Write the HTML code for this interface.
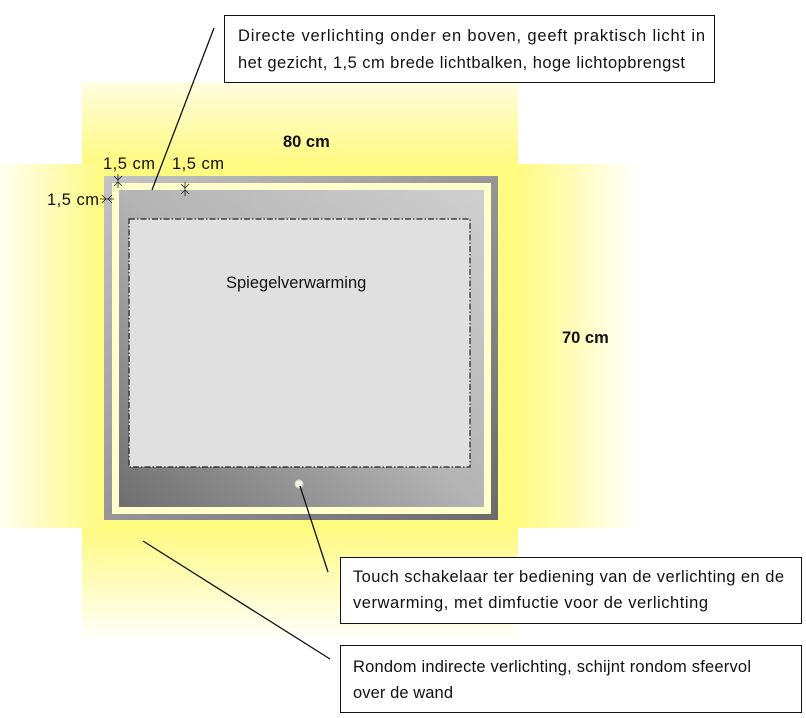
<!DOCTYPE html>
<html><head><meta charset="utf-8"><style>html,body{margin:0;padding:0;background:#fff}svg{display:block}text{font-family:"Liberation Sans",sans-serif;font-size:16.5px;fill:#111}</style></head>
<body>
<svg width="806" height="718" viewBox="0 0 806 718" xmlns="http://www.w3.org/2000/svg">
<defs>
<linearGradient id="gt" x1="0" y1="1" x2="0" y2="0"><stop offset="0" stop-color="#fffa80"/><stop offset="1" stop-color="#fffde0"/></linearGradient>
<linearGradient id="gb" x1="0" y1="0" x2="0" y2="1"><stop offset="0" stop-color="#fffa80"/><stop offset="1" stop-color="#ffffff"/></linearGradient>
<linearGradient id="gl" x1="1" y1="0" x2="0" y2="0"><stop offset="0" stop-color="#fffa80"/><stop offset="1" stop-color="#fffef0"/></linearGradient>
<linearGradient id="gr" x1="0" y1="0" x2="1" y2="0"><stop offset="0" stop-color="#fffa80"/><stop offset="1" stop-color="#ffffff"/></linearGradient>
<linearGradient id="frame2" x1="0" y1="0" x2="1" y2="1"><stop offset="0" stop-color="#c4c4c4"/><stop offset="0.45" stop-color="#9a9a9a"/><stop offset="1" stop-color="#6a6a6a"/></linearGradient>
<linearGradient id="panel" x1="0" y1="1" x2="1" y2="0"><stop offset="0" stop-color="#6e6e6e"/><stop offset="0.5" stop-color="#b4b4b4"/><stop offset="1" stop-color="#cfcfcf"/></linearGradient>
</defs>
<rect x="82" y="82" width="436" height="82" fill="url(#gt)"/>
<rect x="518" y="164" width="122" height="364" fill="url(#gr)"/>
<rect x="0" y="164" width="104" height="364" fill="url(#gl)"/>
<rect x="104" y="164" width="414" height="364" fill="#fffa80"/>
<rect x="82" y="528" width="436" height="115" fill="url(#gb)"/>
<rect x="104" y="176" width="394" height="344" fill="url(#frame2)"/>
<rect x="112" y="183" width="379" height="331" fill="#ffffcc"/>
<rect x="119" y="190" width="365" height="317" fill="url(#panel)"/>
<rect x="129" y="219" width="341" height="248" fill="#e0e0e0" stroke="#222" stroke-width="1.2" stroke-dasharray="6,2,1.5,2"/>
<circle cx="299" cy="484" r="4" fill="#f4f4dc" stroke="#ccc" stroke-width="1"/>
<text x="226" y="288">Spiegelverwarming</text>
<text x="283" y="147" font-weight="bold">80 cm</text>
<text x="562" y="343" font-weight="bold">70 cm</text>
<text x="103" y="169" textLength="52">1,5 cm</text>
<text x="172" y="169" textLength="52">1,5 cm</text>
<text x="47" y="205" textLength="52">1,5 cm</text>
<g stroke="#222" stroke-width="0.8" fill="none">
<path d="M114 176 L118 180 L122 176 M114 186 L118 182 L122 186 M118 174 L118 188"/>
<path d="M181 184 L185 188 L189 184 M181 194 L185 190 L189 194 M185 182 L185 196"/>
<path d="M102 195 L106 199 L102 203 M112 195 L108 199 L112 203 M100 199 L114 199"/>
</g>
<g stroke="#111" stroke-width="1.3">
<line x1="214" y1="28" x2="152" y2="190"/>
<line x1="300" y1="486" x2="328" y2="572"/>
<line x1="143" y1="541" x2="330" y2="659"/>
</g>
<rect x="224.5" y="15.5" width="490" height="67" fill="#fff" stroke="#111"/>
<text x="238" y="41" textLength="467">Directe verlichting onder en boven, geeft praktisch licht in</text>
<text x="238" y="68" textLength="447">het gezicht, 1,5 cm brede lichtbalken, hoge lichtopbrengst</text>
<rect x="340.5" y="557.5" width="461" height="66" fill="#fff" stroke="#111"/>
<text x="353" y="582" textLength="431">Touch schakelaar ter bediening van de verlichting en de</text>
<text x="353" y="608" textLength="355">verwarming, met dimfuctie voor de verlichting</text>
<rect x="340.5" y="645.5" width="461" height="67" fill="#fff" stroke="#111"/>
<text x="353" y="672" textLength="398">Rondom indirecte verlichting, schijnt rondom sfeervol</text>
<text x="353" y="698" textLength="100">over de wand</text>
</svg>
</body></html>
